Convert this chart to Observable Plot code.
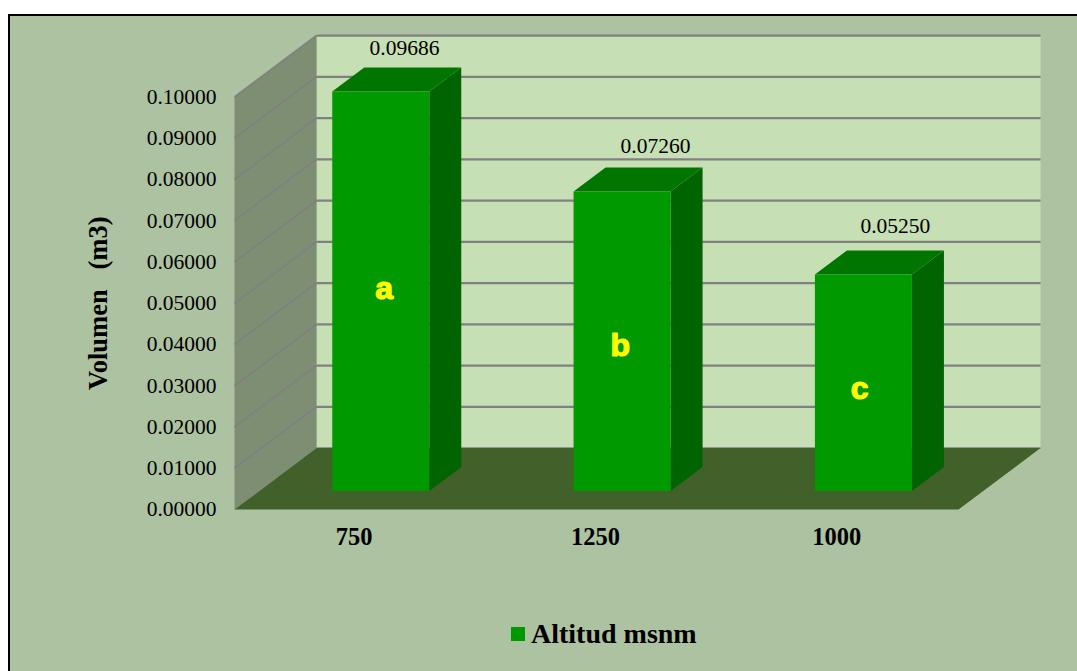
<!DOCTYPE html>
<html>
<head>
<meta charset="utf-8">
<script src="https://cdn.jsdelivr.net/npm/d3@7"></script>
<script src="https://cdn.jsdelivr.net/npm/@observablehq/plot@0.6"></script>
<style>
  html, body { margin: 0; padding: 0; background: #fff; }
  #page { position: relative; width: 1077px; height: 671px; overflow: hidden; }
  #panel { position: absolute; left: 8px; top: 14px; right: -4px; bottom: -4px;
           background: #ADC2A0; border: 2.5px solid #000; }
  #chart { position: absolute; left: 0; top: 0; }
  #legend { position: absolute; left: 511px; top: 619px; display: flex; align-items: center;
            font: bold 28px "Liberation Serif", serif; color: #000; white-space: nowrap; line-height: 30px; }
  #legend i { display: inline-block; width: 14px; height: 14px; background: #009900; margin-right: 6px; }
</style>
</head>
<body>
<div id="page">
  <div id="panel"></div>
  <div id="chart"></div>
  <div id="legend"><i></i><span>Altitud msnm</span></div>
</div>
<script>
const categories = ["750", "1250", "1000"];
const volumes = [0.09686, 0.07260, 0.05250];
const letters = ["a", "b", "c"];
const valueLabels = ["0.09686", "0.07260", "0.05250"];
const yTicks = [0, 0.01, 0.02, 0.03, 0.04, 0.05, 0.06, 0.07, 0.08, 0.09, 0.10];
const yTitle = "Volumen\u00a0\u00a0\u00a0(m3)";
const legendTitle = "Altitud msnm";

// Oblique projection of the 3D box, in data units.
const depthX = 0.34;     // category units across the whole depth
const depthY = 0.0149;   // value units across the whole depth
const px = (x, z) => x + z * depthX;
const py = (y, z) => y + z * depthY;
const pt = (x, y, z) => ({x: px(x, z), y: py(y, z)});

const nCat = categories.length;
const face = (pts, fill) => Plot.line(pts, {x: "x", y: "y", fill, stroke: "none", curve: "linear-closed"});

const yMax = d3.max(yTicks);
const backWall = [pt(0, 0, 1), pt(nCat, 0, 1), pt(nCat, yMax, 1), pt(0, yMax, 1)];
const sideWall = [pt(0, 0, 0), pt(0, 0, 1), pt(0, yMax, 1), pt(0, yMax, 0)];
const floor = [pt(0, 0, 0), pt(nCat, 0, 0), pt(nCat, 0, 1), pt(0, 0, 1)];

const z0 = 0.3, z1 = 0.69, barLeft = 0.303, barRight = 0.705;
const barFaces = volumes.flatMap((v, i) => {
  const a = i + barLeft, b = i + barRight;
  return [
    face([pt(b, 0, z0), pt(b, 0, z1), pt(b, v, z1), pt(b, v, z0)], "#006400"),
    face([pt(a, v, z0), pt(b, v, z0), pt(b, v, z1), pt(a, v, z1)], "#007600"),
    face([pt(a, 0, z0), pt(b, 0, z0), pt(b, v, z0), pt(a, v, z0)], "#009900")
  ];
});

// Small hand placement of labels as they sit in the reference.
const labelNudgeX = [-0.03, 0.01, 0.004];
const labelNudgeY = [0, 0.0005, 0.0012];
const letterNudgeX = [0.018, -0.004, -0.012];
const letterNudgeY = [0.0005, -0.001, -0.0015];

const valueTable = volumes.map((v, i) => ({
  x: px(i + 0.5, z1) + labelNudgeX[i], y: py(v, z1) + labelNudgeY[i], text: valueLabels[i]
}));
const letterTable = volumes.map((v, i) => ({
  x: px(i + 0.5, z0) + letterNudgeX[i], y: py(v / 2, z0) + letterNudgeY[i], text: letters[i]
}));

const gridColor = "#808080";
const serif = "Liberation Serif";

const chart = Plot.plot({
  width: 1077,
  height: 610,
  marginLeft: 234,
  marginRight: 119,
  marginTop: 96.5,
  marginBottom: 101,
  x: {domain: [0, nCat]},
  y: {domain: [0, yMax]},
  style: {background: "transparent", overflow: "visible", fontFamily: serif},
  marks: [
    face(backWall, "#C6DFB4"),
    face(sideWall, "#7E8E72"),
    Plot.link(yTicks.slice(1), {
      x1: () => px(0, 1), x2: () => px(nCat, 1),
      y1: d => py(d, 1), y2: d => py(d, 1),
      stroke: gridColor, strokeWidth: 2.2
    }),
    Plot.link(yTicks.slice(1), {
      x1: () => px(0, 0), x2: () => px(0, 1),
      y1: d => py(d, 0), y2: d => py(d, 1),
      stroke: gridColor, strokeWidth: 1.8
    }),
    Plot.link([0], {
      x1: () => px(0, 1), x2: () => px(nCat, 1),
      y1: d => py(d, 1), y2: d => py(d, 1),
      stroke: gridColor, strokeWidth: 1.5
    }),
    face(floor, "#426029"),
    ...barFaces,
    Plot.axisY({
      ticks: yTicks, tickFormat: d3.format(".5f"), tickSize: 0, tickPadding: 18,
      fontSize: 21.5, fontFamily: serif, label: null, color: "#000"
    }),
    Plot.axisX({
      ticks: categories.map((c, i) => i + 0.5), tickFormat: (d, i) => categories[i],
      tickSize: 0, tickPadding: 18, fontSize: 24.5, fontWeight: "bold", fontFamily: serif, label: null, color: "#000", dx: -1
    }),
    Plot.text([yTitle], {
      text: d => d, frameAnchor: "left", textAnchor: "middle", rotate: -90, dx: -136,
      fontSize: 26.5, fontWeight: "bold", fontFamily: serif, fill: "#000"
    }),
    Plot.text(valueTable, {
      x: "x", y: "y", text: "text", dy: -19, fontSize: 21.5, fontFamily: serif, fill: "#000"
    }),
    Plot.text(letterTable, {
      x: "x", y: "y", text: "text", fontSize: 32, fontWeight: "bold",
      fontFamily: "Liberation Sans", fill: "#FFFF00", stroke: "#FFFF00", strokeWidth: 1.2
    })
  ]
});
document.getElementById("chart").appendChild(chart);
document.querySelector("#legend span").textContent = legendTitle;
</script>
</body>
</html>
